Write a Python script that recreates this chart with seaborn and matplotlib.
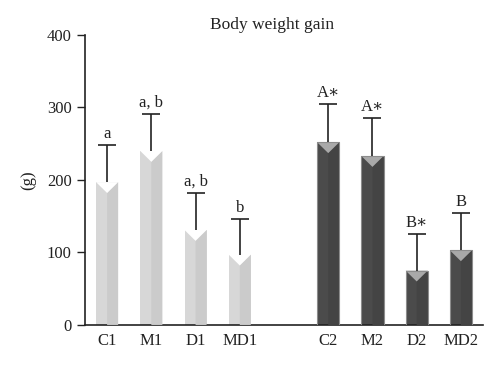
import numpy as np
import pandas as pd
import matplotlib
matplotlib.use("Agg")
import matplotlib.pyplot as plt
import seaborn as sns

sns.set_theme(style="ticks")
plt.rcParams['font.family'] = ['Liberation Serif', 'DejaVu Serif']

groups = ["C1", "M1", "D1", "MD1", "C2", "M2", "D2", "MD2"]
weight_gain = [197, 240, 131, 97, 252, 233, 75, 103]
sd = [51, 51, 51, 49, 53, 52, 51, 51]
letters = ["a", "a, b", "a, b", "b", "A\u2217", "A\u2217", "B\u2217", "B"]
period = ["1", "1", "1", "1", "2", "2", "2", "2"]

order = ["C1", "M1", "D1", "MD1", " ", "C2", "M2", "D2", "MD2"]
df = pd.DataFrame({"group": groups, "gain": weight_gain, "period": period})

fig = plt.figure(figsize=(5, 3.68), dpi=100)
ax = fig.add_axes([0.17, 0.117, 0.796, 0.788])

sns.barplot(data=df, x="group", y="gain", hue="period", order=order,
            palette={"1": "#d7d7d7", "2": "#4b4b4b"}, width=0.5,
            dodge=False, legend=False, errorbar=None, saturation=1,
            linewidth=0, ax=ax)

xpos = [order.index(g) for g in groups]
w = 0.5
notch = 15
for x, v, p in zip(xpos, weight_gain, period):
    # darker right half and chevron top, computed from the bar value
    side = "#cbcbcb" if p == "1" else "#444444"
    ax.fill([x, x + w / 2, x + w / 2, x], [0, 0, v, v - notch], color=side, lw=0, zorder=3)
    top = "white" if p == "1" else "#a9a9a9"
    ax.fill([x - w / 2, x + w / 2, x], [v, v, v - notch], color=top, lw=0, zorder=3)
    if p == "2":
        ax.plot([x - w / 2, x - w / 2, x + w / 2, x + w / 2], [0, v, v, 0],
                color="#8c8c8c", lw=0.8, zorder=3)

eb = ax.errorbar(xpos, weight_gain, yerr=[np.zeros(len(sd)), sd], fmt="none",
                 ecolor="#222222", elinewidth=1.2, capsize=6.5, capthick=1.2, zorder=4)
eb[1][0].set_visible(False)

for x, v, s, t in zip(xpos, weight_gain, sd, letters):
    ax.text(x, v + s + 4, t, ha="center", va="bottom", fontsize=12, color="#222222")

ax.set_xlim(-0.5, 8.5)
ax.set_ylim(0, 400)
ax.set_yticks([0, 100, 200, 300, 400])
ax.set_xticks(xpos)
ax.set_xticklabels(groups)
ax.set_xlabel("")
ax.set_ylabel("(g)", fontsize=12, color="#222222", labelpad=8)
ax.set_title("Body weight gain", fontsize=12.5, color="#222222", x=0.47, pad=4)
ax.tick_params(axis="y", labelsize=12, colors="#222222", length=6, width=1)
ax.tick_params(axis="x", labelsize=12, colors="#222222", length=0, pad=6)
sns.despine(ax=ax)
for s in ["left", "bottom"]:
    ax.spines[s].set_color("#222222")
    ax.spines[s].set_linewidth(1.2)

fig.savefig("out.png", dpi=100)
